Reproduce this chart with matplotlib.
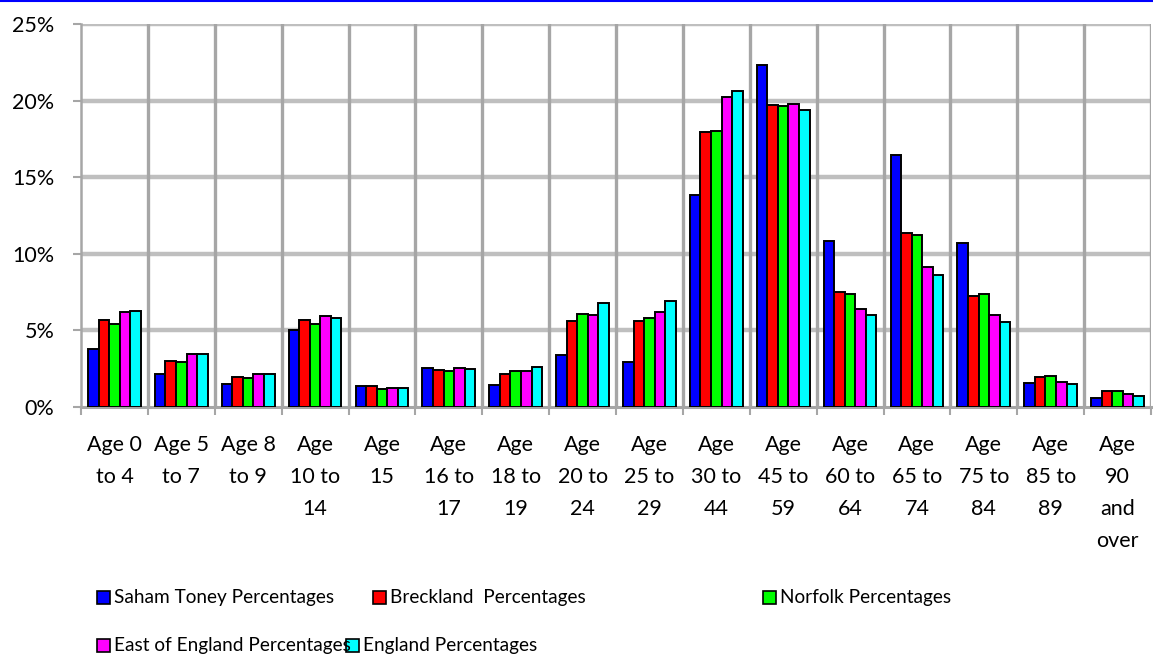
import matplotlib
matplotlib.use("Agg")
import matplotlib.pyplot as plt
import numpy as np
from matplotlib.patches import Rectangle
from matplotlib.lines import Line2D
from matplotlib.ticker import FuncFormatter, FixedLocator

plt.rcParams['font.family'] = ['Lato', 'DejaVu Sans']

categories = [
    "Age 0\nto 4", "Age 5\nto 7", "Age 8\nto 9", "Age\n10 to\n14", "Age\n15",
    "Age\n16 to\n17", "Age\n18 to\n19", "Age\n20 to\n24", "Age\n25 to\n29",
    "Age\n30 to\n44", "Age\n45 to\n59", "Age\n60 to\n64", "Age\n65 to\n74",
    "Age\n75 to\n84", "Age\n85 to\n89", "Age\n90\nand\nover",
]

saham_toney = [3.8, 2.13, 1.48, 5.0, 1.35, 2.57, 1.44, 3.39, 2.94, 13.82,
               22.35, 10.86, 16.47, 10.68, 1.55, 0.57]
breckland = [5.68, 3.02, 1.96, 5.68, 1.35, 2.44, 2.13, 5.63, 5.63, 17.93,
             19.73, 7.49, 11.36, 7.27, 1.96, 1.02]
norfolk = [5.44, 2.94, 1.89, 5.42, 1.2, 2.35, 2.35, 6.05, 5.79, 18.0,
           19.65, 7.38, 11.2, 7.38, 2.0, 1.04]
east_of_england = [6.2, 3.44, 2.17, 5.92, 1.26, 2.55, 2.35, 6.03, 6.22, 20.25,
                   19.8, 6.38, 9.12, 6.03, 1.61, 0.85]
england = [6.29, 3.44, 2.15, 5.81, 1.24, 2.5, 2.61, 6.81, 6.92, 20.65,
           19.41, 6.0, 8.6, 5.53, 1.48, 0.74]

series_names = ["Saham Toney Percentages", "Breckland  Percentages",
                "Norfolk Percentages", "East of England Percentages",
                "England Percentages"]
series_values = [saham_toney, breckland, norfolk, east_of_england, england]
colors = ["#0000FF", "#FF0000", "#00FF00", "#FF00FF", "#00FFFF"]

W, H = 1153, 657
fig = plt.figure(figsize=(W / 100, H / 100), dpi=100)
ax = fig.add_axes([81 / W, 1 - 407 / H, 1070 / W, 383 / H])

n = len(categories)
x = np.arange(n)
bar_w = 0.158
offsets = (np.arange(5) - 2) * bar_w
for vals, col, off in zip(series_values, colors, offsets):
    ax.bar(x + off, vals, width=bar_w, color=col, edgecolor="black",
           linewidth=1.4, zorder=3)

ax.set_xlim(-0.5, n - 0.5)
ax.set_ylim(0, 25)

# horizontal grid
ax.yaxis.set_major_locator(FixedLocator([0, 5, 10, 15, 20, 25]))
ax.yaxis.set_major_formatter(FuncFormatter(lambda v, p: f"{v:.0f}%"))
for yv in [5, 10, 15, 20, 25]:
    ax.axhline(yv, color="#BFBFBF", linewidth=3.2, zorder=1)
# vertical separators between categories
for b in np.arange(0.5, n - 0.5, 1):
    ax.axvline(b, color="#A6A6A6", linewidth=2.4, zorder=1)
ax.axvline(n - 0.5, color="#A6A6A6", linewidth=2.4, zorder=1)

ax.set_xticks(x)
ax.set_xticklabels(categories, fontsize=15.5, linespacing=1.75)
ax.tick_params(axis="x", length=0, pad=20)
# boundary tick marks on the category axis
ax.set_xticks(np.arange(-0.5, n, 1), minor=True)
ax.tick_params(axis="x", which="minor", length=6, width=1.5, color="#A6A6A6")
ax.tick_params(axis="y", length=6, width=1.5, color="#A6A6A6", labelsize=15.5, pad=13)

for s in ["top", "right"]:
    ax.spines[s].set_visible(False)
ax.spines["left"].set_color("#A6A6A6")
ax.spines["left"].set_linewidth(1.8)
ax.spines["bottom"].set_color("#A6A6A6")
ax.spines["bottom"].set_linewidth(2.2)

# legend
legend_pos = [(97, 597), (373, 597), (763, 597), (97, 645), (346, 645)]
sq = 13
for (lx, ly), name, col in zip(legend_pos, series_names, colors):
    fig.patches.append(Rectangle((lx / W, 1 - (ly + sq / 2) / H), sq / W, sq / H,
                                 transform=fig.transFigure, facecolor=col,
                                 edgecolor="black", linewidth=1.2))
    fig.text((lx + sq + 4) / W, 1 - ly / H, name, fontsize=13.7,
             va="center", ha="left")

# top border line
fig.add_artist(Line2D([0, 1], [1 - 1 / H, 1 - 1 / H], transform=fig.transFigure,
                      color="#0000FF", linewidth=1.5))

fig.savefig("out.png", dpi=100)
